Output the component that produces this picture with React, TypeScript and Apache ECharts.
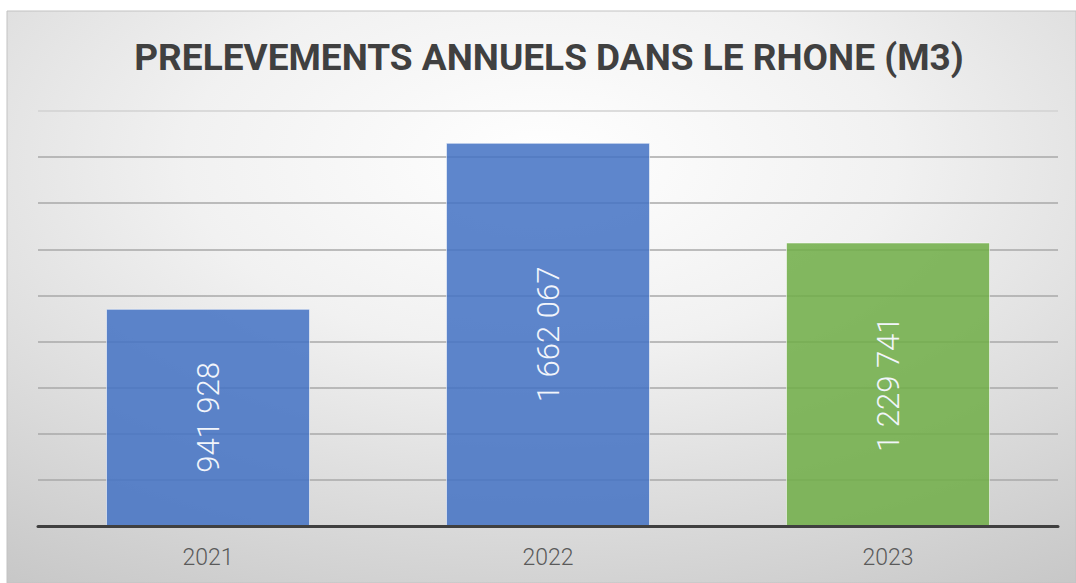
import React, { useEffect, useRef } from "react";
import * as echarts from "echarts";

const years = ["2021", "2022", "2023"];
const volumes = [941928, 1662067, 1229741];
const yMax = 1800000;
const yStep = 200000;
const titleText = "PRELEVEMENTS ANNUELS DANS LE RHONE (M3)";

const barColors = ["rgba(68,114,196,0.86)", "rgba(68,114,196,0.86)", "rgba(112,173,71,0.86)"];

const fmt = (v: number) => String(v).replace(/\B(?=(\d{3})+(?!\d))/g, " ");

export default function App() {
  const ref = useRef<HTMLDivElement>(null);
  useEffect(() => {
    if (!ref.current) return;
    const chart = echarts.init(ref.current, undefined, { renderer: "svg" });
    const lineColors = Array.from({ length: 10 }, (_, i) => (i === 9 ? "#d2d2d2" : "#a8a8a8"));
    chart.setOption({
      animation: false,
      backgroundColor: "#ffffff",
      graphic: [
        {
          type: "rect",
          z: -10,
          silent: true,
          shape: { x: 7, y: 11, width: 1069, height: 572 },
          style: {
            fill: {
              type: "radial",
              x: 0.5,
              y: 0.26,
              r: 0.95,
              colorStops: [
                { offset: 0, color: "#ffffff" },
                { offset: 0.35, color: "#f1f1f1" },
                { offset: 1, color: "#c3c3c3" },
              ],
            },
            stroke: "#c2c2c2",
            lineWidth: 1,
          },
        },
        {
          type: "text",
          x: 549,
          y: 57,
          z: 10,
          style: {
            text: titleText,
            textAlign: "center",
            textVerticalAlign: "middle",
            fontFamily: "Roboto",
            fontWeight: "bold",
            fontSize: 37,
            fill: "#404040",
          },
        },
      ],
      grid: { left: 38, right: 18, top: 111, bottom: 57 },
      xAxis: {
        type: "category",
        data: years,
        axisLine: { lineStyle: { color: "#404040", width: 3 } },
        axisTick: { show: false },
        axisLabel: { color: "#5a5a5a", fontSize: 23, fontFamily: "Roboto", fontWeight: 300, margin: 20 },
        z: 5,
      },
      yAxis: {
        type: "value",
        min: 0,
        max: yMax,
        interval: yStep,
        axisLabel: { show: false },
        axisLine: { show: false },
        axisTick: { show: false },
        splitLine: { lineStyle: { color: lineColors, width: 1.5 } },
      },
      series: [
        {
          type: "bar",
          barWidth: "60%",
          data: volumes.map((v, i) => ({ value: v, itemStyle: { color: barColors[i] } })),
          itemStyle: { borderColor: "rgba(255,255,255,0.55)", borderWidth: 1 },
          label: {
            show: true,
            position: "inside",
            rotate: 90,
            color: "#f2f5fb",
            fontFamily: "Roboto",
            fontWeight: 300,
            fontSize: 31,
            formatter: (p: any) => fmt(p.value),
          },
        },
      ],
    });
    return () => chart.dispose();
  }, []);
  return (
    <div
      ref={ref}
      style={{ position: "absolute", left: 0, top: 0, width: 1076, height: 583 }}
    />
  );
}
